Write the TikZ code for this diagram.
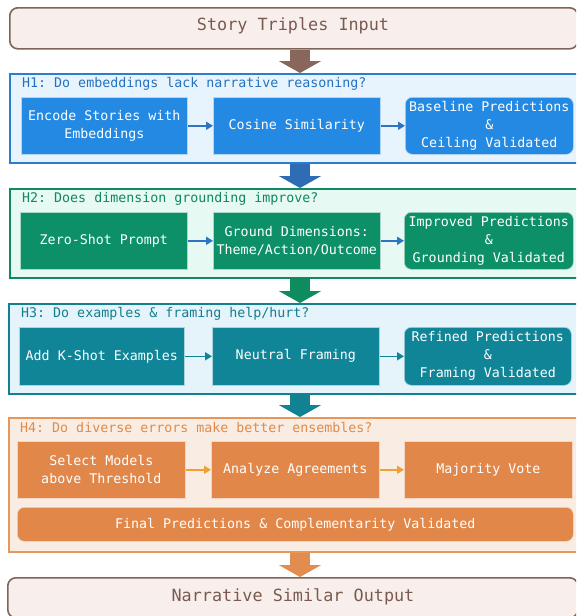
\documentclass[tikz,border=0pt]{standalone}
\usepackage{fontspec}
\setmonofont{DejaVu Sans Mono}
\usetikzlibrary{arrows.meta}
\definecolor{brownE}{HTML}{7F6459}
\definecolor{brownT}{HTML}{7A5A4F}
\definecolor{brownA}{HTML}{88665A}
\definecolor{topFill}{HTML}{F8EFEC}
\definecolor{blueE}{HTML}{2A7DD0}
\definecolor{blueF}{HTML}{E8F4FD}
\definecolor{blueT}{HTML}{2471C0}
\definecolor{blueB}{HTML}{2389E3}
\definecolor{blueA}{HTML}{2E6DB4}
\definecolor{blueS}{HTML}{2E74C4}
\definecolor{greenE}{HTML}{108A63}
\definecolor{greenF}{HTML}{E6F9F2}
\definecolor{greenT}{HTML}{11875F}
\definecolor{greenB}{HTML}{0D9068}
\definecolor{greenA}{HTML}{0E8C5E}
\definecolor{tealE}{HTML}{13808F}
\definecolor{tealF}{HTML}{E5F3FB}
\definecolor{tealT}{HTML}{127E8F}
\definecolor{tealB}{HTML}{108597}
\definecolor{tealA}{HTML}{118294}
\definecolor{orE}{HTML}{E8975A}
\definecolor{orF}{HTML}{F9EDE3}
\definecolor{orT}{HTML}{E08A48}
\definecolor{orB}{HTML}{E2874A}
\definecolor{orA}{HTML}{E38C4F}
\definecolor{orS}{HTML}{F0A030}
\begin{document}
\begin{tikzpicture}[x=1pt,y=-1pt,
  every node/.style={font=\ttfamily\fontsize{13.3}{18}\selectfont, inner sep=0pt},
  endbox/.style={draw=brownE, fill=topFill, line width=1.6pt, rounded corners=8pt, anchor=north west,
    text=brownT, font=\ttfamily\fontsize{16.8}{20}\selectfont},
  group/.style={draw=#1E, fill=#1F, line width=1.8pt, anchor=north west, minimum width=578pt},
  glabel/.style={anchor=west, text=#1T},
  stepbox/.style={fill=#1B, draw=white!65!#1B, line width=0.6pt, anchor=north west, text=white, align=center},
  resbox/.style={stepbox=#1, rounded corners=7pt},
  bigarrow/.style={draw=#1, line width=20pt, -{Triangle[length=12pt,width=42pt]}},
  smallarrow/.style={draw=#1, line width=1.6pt, -{Triangle[length=7pt,width=8pt]}}
]
\useasboundingbox (0,0) rectangle (576,616);
\clip (0,0) rectangle (576,616);
\coordinate (ax) at (300,0);

% top box
\node[endbox, minimum width=568pt, minimum height=41pt] (top) at (9,7) {};
\node[text=brownT, font=\ttfamily\fontsize{16.8}{20}\selectfont] (toptxt) at (293,26) {Story Triples Input};

% H1
\node[group=blue, minimum height=89pt] (h1) at (9,73) {};
\node[glabel=blue] (h1l) at (22,84) {H1: Do embeddings lack narrative reasoning?};
\node[stepbox=blue, minimum width=166pt, minimum height=57pt] (b11) at (21,97) {Encode Stories with\\Embeddings};
\node[stepbox=blue, minimum width=167pt, minimum height=57pt] (b12) at (213,97) {Cosine Similarity};
\node[resbox=blue, minimum width=168pt, minimum height=57pt] (b13) at (405,97) {Baseline Predictions\\\&\\Ceiling Validated};
\draw[smallarrow=blueS] (b11.east) -- (b12.west);
\draw[smallarrow=blueS] (b12.east) -- (b13.west);

% H2
\node[group=green, minimum height=89pt] (h2) at (9,188) {};
\node[glabel=green] (h2l) at (22,199) {H2: Does dimension grounding improve?};
\node[stepbox=green, minimum width=167pt, minimum height=57pt] (b21) at (20,212) {Zero-Shot Prompt};
\node[stepbox=green, minimum width=167pt, minimum height=57pt] (b22) at (213,212) {Ground Dimensions:\\Theme/Action/Outcome};
\node[resbox=green, minimum width=169pt, minimum height=57pt] (b23) at (404,212) {Improved Predictions\\\&\\Grounding Validated};
\draw[smallarrow=blueS] (b21.east) -- (b22.west);
\draw[smallarrow=blueS] (b22.east) -- (b23.west);

% H3
\node[group=teal, minimum height=90pt] (h3) at (8,303) {};
\node[glabel=teal] (h3l) at (21,314) {H3: Do examples \& framing help/hurt?};
\node[stepbox=teal, minimum width=165pt, minimum height=58pt] (b31) at (19,327) {Add K-Shot Examples};
\node[stepbox=teal, minimum width=167pt, minimum height=58pt] (b32) at (212,327) {Neutral Framing};
\node[resbox=teal, minimum width=167pt, minimum height=58pt] (b33) at (404,327) {Refined Predictions\\\&\\Framing Validated};
\draw[smallarrow=tealB] (b31.east) -- (b32.west);
\draw[smallarrow=tealB] (b32.east) -- (b33.west);

% H4
\node[group=or, minimum height=134pt] (h4) at (8,417) {};
\node[glabel=or] (h4l) at (20,428) {H4: Do diverse errors make better ensembles?};
\node[stepbox=or, minimum width=168pt, minimum height=57pt] (b41) at (17,441) {Select Models\\above Threshold};
\node[stepbox=or, minimum width=168pt, minimum height=57pt] (b42) at (211,441) {Analyze Agreements};
\node[stepbox=or, minimum width=168pt, minimum height=57pt] (b43) at (404,441) {Majority Vote};
\node[resbox=or, minimum width=556pt, minimum height=34pt] (b44) at (17,507) {Final Predictions \& Complementarity Validated};
\draw[smallarrow=orS] (b41.east) -- (b42.west);
\draw[smallarrow=orS] (b42.east) -- (b43.west);

% bottom box
\node[endbox, minimum width=570pt, minimum height=40pt] (bot) at (7,577) {};
\node[text=brownT, font=\ttfamily\fontsize{16.8}{20}\selectfont] (bottxt) at (293,597) {Narrative Similar Output};

% big arrows
\draw[bigarrow=brownA] (top.south -| ax) -- (h1.north -| ax);
\draw[bigarrow=blueA] (h1.south -| ax) -- (h2.north -| ax);
\draw[bigarrow=greenA] (h2.south -| ax) -- (h3.north -| ax);
\draw[bigarrow=tealA] (h3.south -| ax) -- (h4.north -| ax);
\draw[bigarrow=orA] (h4.south -| ax) -- (bot.north -| ax);
\end{tikzpicture}
\end{document}
